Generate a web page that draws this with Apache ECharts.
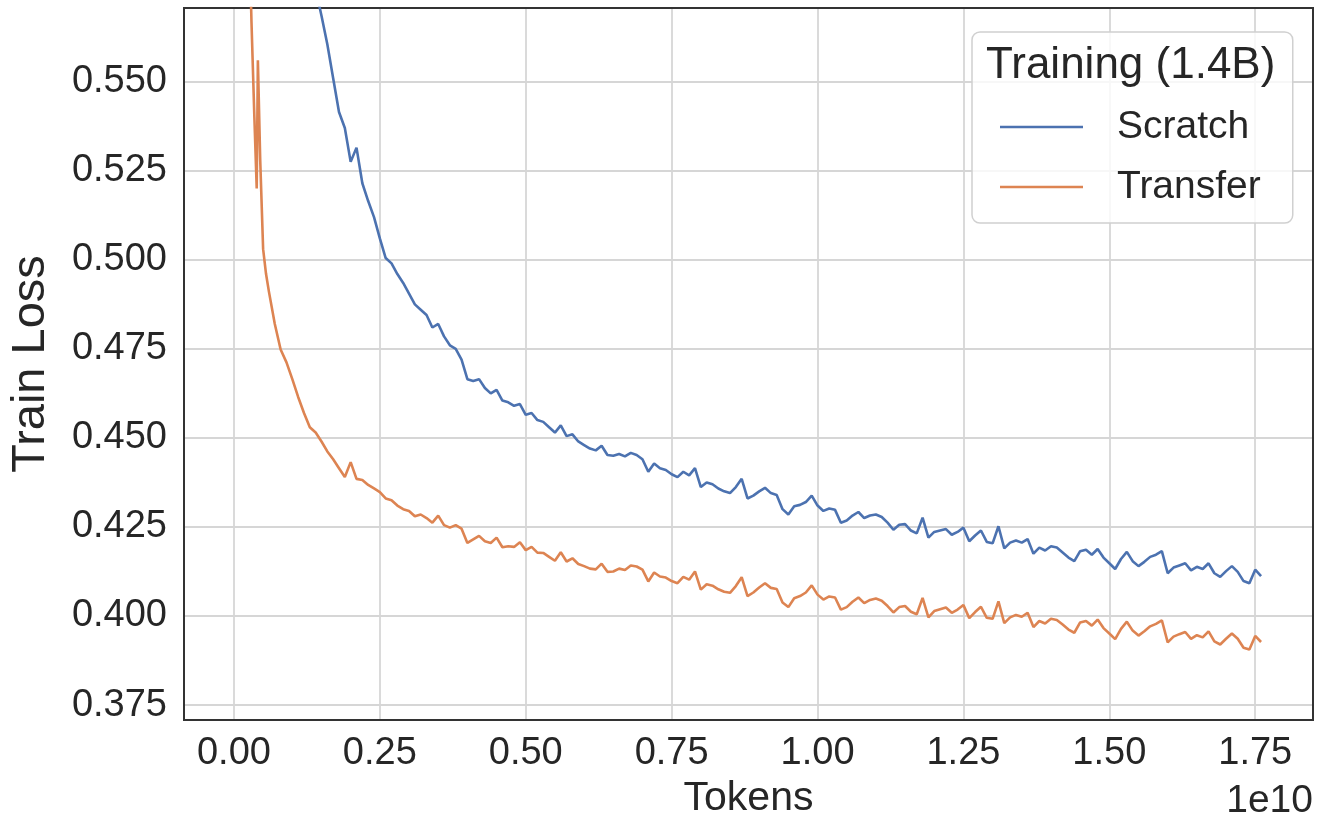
<!DOCTYPE html>
<html lang="en">
<head>
    <meta charset="UTF-8" />
    <title>Train Loss</title>
    <script src="https://cdn.jsdelivr.net/npm/echarts@6/dist/echarts.min.js"></script>
    <style>
        * { margin: 0; padding: 0; }
        #main { width: 1318px; height: 824px; background: #fff; }
    </style>
</head>
<body>
<div id="main"></div>
<script>
    // tokens in units of 1e10
    const tokens = [
        0.02, 0.025, 0.03, 0.035, 0.039, 0.041, 0.045, 0.05, 0.055, 0.06, 0.07, 0.08, 0.09,
        0.10, 0.11, 0.12, 0.13, 0.14, 0.15, 0.16, 0.17, 0.18, 0.19,
        0.20, 0.21, 0.22, 0.23, 0.24, 0.25, 0.26, 0.27, 0.28, 0.29,
        0.30, 0.31, 0.32, 0.33, 0.34, 0.35, 0.36, 0.37, 0.38, 0.39,
        0.40, 0.41, 0.42, 0.43, 0.44, 0.45, 0.46, 0.47, 0.48, 0.49,
        0.50, 0.51, 0.52, 0.53, 0.54, 0.55, 0.56, 0.57, 0.58, 0.59,
        0.60, 0.61, 0.62, 0.63, 0.64, 0.65, 0.66, 0.67, 0.68, 0.69,
        0.70, 0.71, 0.72, 0.73, 0.74, 0.75, 0.76, 0.77, 0.78, 0.79,
        0.80, 0.81, 0.82, 0.83, 0.84, 0.85, 0.86, 0.87, 0.88, 0.89,
        0.90, 0.91, 0.92, 0.93, 0.94, 0.95, 0.96, 0.97, 0.98, 0.99,
        1.00, 1.01, 1.02, 1.03, 1.04, 1.05, 1.06, 1.07, 1.08, 1.09,
        1.10, 1.11, 1.12, 1.13, 1.14, 1.15, 1.16, 1.17, 1.18, 1.19,
        1.20, 1.21, 1.22, 1.23, 1.24, 1.25, 1.26, 1.27, 1.28, 1.29,
        1.30, 1.31, 1.32, 1.33, 1.34, 1.35, 1.36, 1.37, 1.38, 1.39,
        1.40, 1.41, 1.42, 1.43, 1.44, 1.45, 1.46, 1.47, 1.48, 1.49,
        1.50, 1.51, 1.52, 1.53, 1.54, 1.55, 1.56, 1.57, 1.58, 1.59,
        1.60, 1.61, 1.62, 1.63, 1.64, 1.65, 1.66, 1.67, 1.68, 1.69,
        1.70, 1.71, 1.72, 1.73, 1.74, 1.75, 1.76
    ];
    const scratch = [
        0.75, 0.74, 0.73, 0.72, 0.712, 0.708, 0.70, 0.69, 0.68, 0.672, 0.655, 0.64, 0.624,
        0.608, 0.598, 0.590, 0.583, 0.576, 0.5685, 0.5605, 0.5510, 0.5415, 0.5370,
        0.5275, 0.5315, 0.5215, 0.5165, 0.5120, 0.5060, 0.5005, 0.4990, 0.4960, 0.4935,
        0.4905, 0.4875, 0.4860, 0.4845, 0.4810, 0.4820, 0.4785, 0.4760, 0.4750, 0.4720,
        0.4665, 0.4660, 0.4665, 0.4640, 0.4625, 0.4635, 0.4605, 0.4600, 0.4590, 0.4595,
        0.4565, 0.4570, 0.4550, 0.4545, 0.4530, 0.4515, 0.4535, 0.4505, 0.4510, 0.4490,
        0.4480, 0.4470, 0.4465, 0.4478, 0.4452, 0.4450, 0.4455, 0.4448, 0.4458, 0.4452,
        0.4440, 0.4405, 0.4428, 0.4415, 0.4410, 0.4398, 0.4390, 0.4405, 0.4395, 0.4415,
        0.4362, 0.4375, 0.4370, 0.4358, 0.4350, 0.4345, 0.4362, 0.4385, 0.4330, 0.4338,
        0.4350, 0.4360, 0.4345, 0.4340, 0.4300, 0.4285, 0.4308, 0.4312, 0.4320, 0.4338,
        0.4310, 0.4295, 0.4302, 0.4298, 0.4262, 0.4268, 0.4282, 0.4292, 0.4275, 0.4282,
        0.4285, 0.4278, 0.4262, 0.4242, 0.4256, 0.4258, 0.4240, 0.4232, 0.4276, 0.4220,
        0.4236, 0.4240, 0.4244, 0.4228, 0.4236, 0.4248, 0.4210, 0.4226, 0.4240, 0.4208,
        0.4204, 0.4252, 0.4190, 0.4206, 0.4212, 0.4206, 0.4216, 0.4175, 0.4192, 0.4184,
        0.4196, 0.4192, 0.4178, 0.4164, 0.4154, 0.4182, 0.4186, 0.4172, 0.4188, 0.4164,
        0.4148, 0.4132, 0.4160, 0.4180, 0.4154, 0.4140, 0.4152, 0.4166, 0.4172, 0.4182,
        0.4120, 0.4136, 0.4142, 0.4148, 0.4128, 0.4138, 0.4132, 0.4148, 0.4120, 0.4110,
        0.4126, 0.4140, 0.4124, 0.4098, 0.4092, 0.4130, 0.4112
    ];
    const transfer = [
        0.64, 0.60, 0.567, 0.540, 0.520, 0.556, 0.528, 0.503, 0.496, 0.491, 0.482, 0.4748, 0.4712,
        0.4665, 0.4615, 0.4570, 0.4530, 0.4515, 0.4490, 0.4462, 0.4440, 0.4415, 0.4390,
        0.4432, 0.4385, 0.4382, 0.4368, 0.4358, 0.4348, 0.4330, 0.4325, 0.4310, 0.4300,
        0.4295, 0.4280, 0.4285, 0.4275, 0.4262, 0.4282, 0.4255, 0.4248, 0.4255, 0.4245,
        0.4205, 0.4215, 0.4225, 0.4210, 0.4205, 0.4220, 0.4193, 0.4196, 0.4194, 0.4207,
        0.4185, 0.4194, 0.4178, 0.4177, 0.4166, 0.4155, 0.4179, 0.4153, 0.4162, 0.4146,
        0.4140, 0.4133, 0.4131, 0.4147, 0.4124, 0.4125, 0.4133, 0.4129, 0.4142, 0.4139,
        0.4130, 0.4097, 0.4122, 0.4111, 0.4108, 0.4098, 0.4092, 0.4110, 0.4102, 0.4125,
        0.4074, 0.4089, 0.4085, 0.4075, 0.4068, 0.4065, 0.4084, 0.4109, 0.4056, 0.4066,
        0.4080, 0.4092, 0.4079, 0.4076, 0.4038, 0.4025, 0.4050, 0.4056, 0.4066, 0.4086,
        0.4060, 0.4046, 0.4055, 0.4052, 0.4018, 0.4025, 0.4040, 0.4052, 0.4036, 0.4045,
        0.4049, 0.4043, 0.4028, 0.4010, 0.4025, 0.4028, 0.4012, 0.4005, 0.4051, 0.3996,
        0.4014, 0.4019, 0.4024, 0.4009, 0.4018, 0.4031, 0.3994, 0.4011, 0.4026, 0.3995,
        0.3992, 0.4041, 0.3980, 0.3996, 0.4003, 0.3998, 0.4009, 0.3969, 0.3986, 0.3979,
        0.3992, 0.3989, 0.3976, 0.3962, 0.3953, 0.3982, 0.3986, 0.3973, 0.3990, 0.3966,
        0.3951, 0.3935, 0.3964, 0.3984, 0.3959, 0.3945, 0.3957, 0.3971, 0.3978, 0.3988,
        0.3926, 0.3942, 0.3949, 0.3955, 0.3936, 0.3946, 0.3940, 0.3957, 0.3929, 0.3920,
        0.3936, 0.3951, 0.3936, 0.3911, 0.3906, 0.3944, 0.3927
    ];
    const xTicks = [0, 0.25, 0.5, 0.75, 1.0, 1.25, 1.5, 1.75];
    const yTicks = [0.375, 0.4, 0.425, 0.45, 0.475, 0.5, 0.525, 0.55];

    const font = '"Liberation Sans", Arial, Helvetica, sans-serif';
    const textColor = '#262626';

    var myChart = echarts.init(document.getElementById('main'));
    var option = {
        animation: false,
        backgroundColor: '#fff',
        color: ['#4c72b0', '#dd8452'],
        grid: {
            left: 183, top: 8, right: 5, bottom: 100,
            show: true, borderColor: '#333', borderWidth: 2, backgroundColor: 'transparent',
            z: 3
        },
        xAxis: {
            type: 'value',
            min: -0.0856, max: 1.849,
            name: 'Tokens',
            nameLocation: 'middle',
            nameGap: 58,
            nameTextStyle: { fontSize: 41, color: textColor, fontFamily: font },
            axisLine: { show: false },
            axisTick: { show: false, customValues: xTicks },
            axisLabel: {
                customValues: xTicks,
                fontSize: 38, color: textColor, fontFamily: font, margin: 15,
                formatter: (v) => v.toFixed(2)
            },
            splitLine: { show: true, lineStyle: { color: '#d6d6d6', width: 1.8 } }
        },
        yAxis: {
            type: 'value',
            min: 0.3708, max: 0.5707,
            name: 'Train Loss',
            nameLocation: 'middle',
            nameGap: 129,
            nameTextStyle: { fontSize: 47, color: textColor, fontFamily: font },
            axisLine: { show: false },
            axisTick: { show: false, customValues: yTicks },
            axisLabel: {
                customValues: yTicks,
                fontSize: 38, color: textColor, fontFamily: font, margin: 17,
                formatter: (v) => v.toFixed(3)
            },
            splitLine: { show: true, lineStyle: { color: '#d6d6d6', width: 1.8 } }
        },
        legend: {
            orient: 'vertical',
            left: 972, top: 32,
            padding: [75, 32, 16, 28],
            itemGap: 20,
            itemWidth: 83, itemHeight: 2.5,
            icon: 'rect',
            backgroundColor: 'rgba(255,255,255,0.8)',
            borderColor: '#d0d0d0', borderWidth: 1.5, borderRadius: 8,
            textStyle: {
                fontSize: 39, color: textColor, fontFamily: font,
                lineHeight: 40, padding: [0, 0, 0, 29]
            },
            data: ['Scratch', 'Transfer']
        },
        graphic: [
            {
                type: 'text', z: 100,
                left: 986, top: 44,
                style: { text: 'Training (1.4B)', fontSize: 44, fill: textColor, fontFamily: font }
            },
            {
                type: 'text', z: 100,
                right: 5, top: 782,
                style: { text: '1e10', fontSize: 39, fill: textColor, fontFamily: font }
            }
        ],
        series: [
            {
                name: 'Scratch', type: 'line', showSymbol: false, clip: true,
                lineStyle: { width: 2.6 },
                data: tokens.map((t, i) => [t, scratch[i]])
            },
            {
                name: 'Transfer', type: 'line', showSymbol: false, clip: true,
                lineStyle: { width: 2.6 },
                data: tokens.map((t, i) => [t, transfer[i]])
            }
        ]
    };
    option && myChart.setOption(option);
</script>
</body>
</html>
